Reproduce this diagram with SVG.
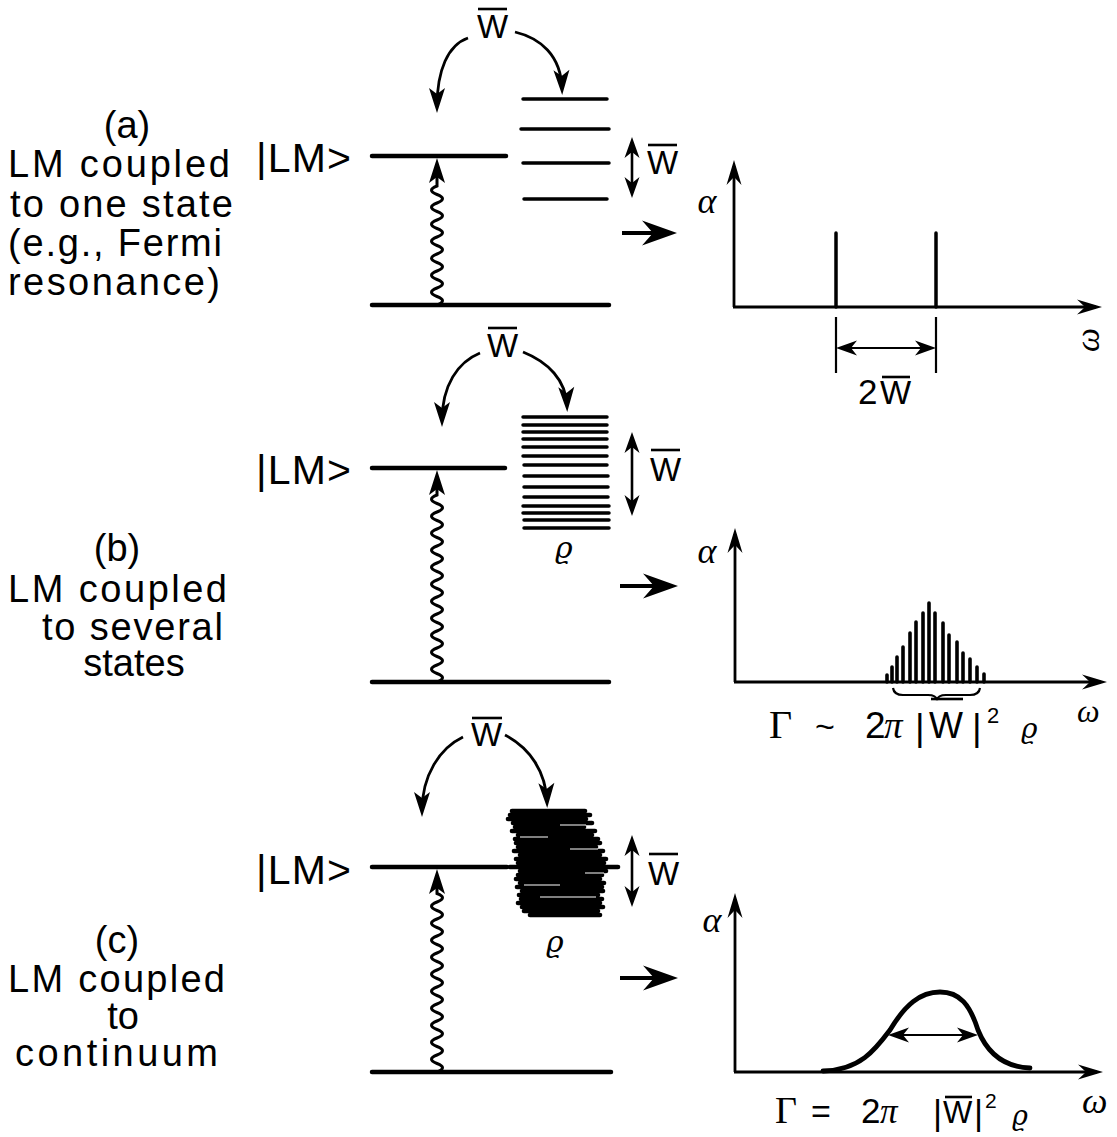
<svg xmlns="http://www.w3.org/2000/svg" width="1117" height="1137" viewBox="0 0 1117 1137">
<style>
text{font-family:"Liberation Sans",Arial,Helvetica,sans-serif;fill:#000}
.lab{font-size:38px}
.ket{font-size:41px}
.w{font-size:33px}
.gk{font-family:"Liberation Serif","Times New Roman",serif;font-style:italic}
.gu{font-family:"Liberation Serif","Times New Roman",serif}
.rho{font-family:"DejaVu Serif",serif;font-style:italic}
.lvl{stroke:#000;stroke-width:4.5;fill:none;stroke-linecap:round}
.st{stroke:#000;stroke-width:3.5;stroke-linecap:round}
.scr{stroke:#000;stroke-width:4.6;stroke-linecap:round}
.wh{stroke:#fff;stroke-width:1}
.thin{stroke:#000;stroke-width:2.2;fill:none}
.arc{stroke:#000;stroke-width:2.8;fill:none;marker-end:url(#ah)}
.wave{stroke:#000;stroke-width:3;fill:none;marker-end:url(#ah)}
.dbl{stroke:#000;stroke-width:2.6;marker-start:url(#as);marker-end:url(#as)}
.big{stroke:#000;stroke-width:3.8;marker-end:url(#big)}
.ax{stroke:#000;stroke-width:2.8;fill:none;marker-end:url(#axh)}
.bar{stroke:#000;stroke-width:3.6;stroke-linecap:round}
.ob{stroke:#000;stroke-width:2.6}
</style>
<defs>
<marker id="ah" viewBox="-30 -10 32 20" markerWidth="32" markerHeight="20" refX="-6" refY="0" orient="auto" markerUnits="userSpaceOnUse"><path d="M0,0 L-25,-8 L-19,0 L-25,8 Z"/></marker>
<marker id="as" viewBox="-26 -9 28 18" markerWidth="28" markerHeight="18" refX="-6" refY="0" orient="auto-start-reverse" markerUnits="userSpaceOnUse"><path d="M0,0 L-21,-7.5 L-15,0 L-21,7.5 Z"/></marker>
<marker id="big" viewBox="-40 -14 42 28" markerWidth="42" markerHeight="28" refX="-8" refY="0" orient="auto" markerUnits="userSpaceOnUse"><path d="M0,0 L-35,-12.5 L-24,0 L-35,12.5 Z"/></marker>
<marker id="axh" viewBox="-30 -10 32 20" markerWidth="32" markerHeight="20" refX="-6" refY="0" orient="auto" markerUnits="userSpaceOnUse"><path d="M0,0 L-25,-7.5 L-17,0 L-25,7.5 Z"/></marker>
</defs>
<rect width="1117" height="1137" fill="#fff"/>

<!-- Left captions -->
<g id="caption-a" class="lab">
<text x="127" y="138" text-anchor="middle">(a)</text>
<text x="8" y="177" textLength="222">LM coupled</text>
<text x="10" y="217" textLength="223">to one state</text>
<text x="8" y="256" textLength="214">(e.g., Fermi</text>
<text x="8" y="295" textLength="212">resonance)</text>
</g>
<g id="caption-b" class="lab">
<text x="117" y="561" text-anchor="middle">(b)</text>
<text x="8" y="602" textLength="219">LM coupled</text>
<text x="42" y="640" textLength="181">to several</text>
<text x="134" y="676" text-anchor="middle">states</text>
</g>
<g id="caption-c" class="lab">
<text x="117" y="953" text-anchor="middle">(c)</text>
<text x="8" y="992" textLength="217">LM coupled</text>
<text x="123" y="1029" text-anchor="middle">to</text>
<text x="15" y="1066" textLength="203">continuum</text>
</g>

<!-- Panel (a) levels -->
<g id="levels-a">
<text class="ket" x="256" y="172" textLength="95">|LM&gt;</text>
<line class="lvl" x1="372" y1="156" x2="506" y2="156"/>
<line class="lvl" x1="372" y1="305" x2="609" y2="305"/>
<line class="st" x1="523" y1="99" x2="607" y2="99"/>
<line class="st" x1="521" y1="129" x2="609" y2="129"/>
<line class="st" x1="523" y1="163" x2="609" y2="163"/>
<line class="st" x1="524" y1="199" x2="607" y2="199"/>
<text class="w" x="477" y="38">W</text><line class="ob" x1="478" y1="9" x2="507" y2="9"/>
<text class="w" x="647" y="174">W</text><line class="ob" x1="648" y1="145" x2="677" y2="145"/>
</g>

<!-- Panel (b) levels -->
<g id="levels-b">
<text class="ket" x="256" y="484" textLength="95">|LM&gt;</text>
<line class="lvl" x1="372" y1="468" x2="505" y2="468"/>
<line class="lvl" x1="372" y1="682" x2="609" y2="682"/>
<g class="st">
<line x1="523" y1="417" x2="607" y2="417"/>
<line x1="523" y1="425" x2="607" y2="425"/>
<line x1="523" y1="432" x2="607" y2="432"/>
<line x1="523" y1="439" x2="607" y2="439"/>
<line x1="523" y1="447" x2="607" y2="447"/>
<line x1="523" y1="456" x2="607" y2="456"/>
<line x1="524" y1="465" x2="607" y2="465"/>
<line x1="524" y1="476" x2="608" y2="476"/>
<line x1="524" y1="487" x2="608" y2="487"/>
<line x1="524" y1="497" x2="608" y2="497"/>
<line x1="523" y1="506" x2="609" y2="506"/>
<line x1="523" y1="513" x2="609" y2="513"/>
<line x1="524" y1="520" x2="609" y2="520"/>
<line x1="524" y1="528" x2="609" y2="528"/>
</g>
<text class="rho" x="555" y="558" font-size="30">ϱ</text>
<text class="w" x="487" y="357">W</text><line class="ob" x1="488" y1="328" x2="517" y2="328"/>
<text class="w" x="650" y="481">W</text><line class="ob" x1="651" y1="450" x2="680" y2="450"/>
</g>

<!-- Panel (c) levels -->
<g id="levels-c">
<text class="ket" x="256" y="884" textLength="95">|LM&gt;</text>
<line class="lvl" x1="372" y1="867" x2="507" y2="867"/>
<line class="lvl" x1="372" y1="1072" x2="611" y2="1072"/>
<g class="scr">
<line x1="512" y1="811" x2="585" y2="811"/>
<line x1="510" y1="815" x2="590" y2="815"/>
<line x1="508" y1="819" x2="586" y2="819"/>
<line x1="513" y1="823" x2="592" y2="823"/>
<line x1="515" y1="827" x2="584" y2="827"/>
<line x1="512" y1="831" x2="595" y2="831"/>
<line x1="518" y1="835" x2="592" y2="835"/>
<line x1="515" y1="839" x2="598" y2="839"/>
<line x1="516" y1="843" x2="600" y2="843"/>
<line x1="518" y1="847" x2="596" y2="847"/>
<line x1="514" y1="851" x2="603" y2="851"/>
<line x1="520" y1="855" x2="600" y2="855"/>
<line x1="516" y1="859" x2="606" y2="859"/>
<line x1="518" y1="863" x2="604" y2="863"/>
<line x1="510" y1="867" x2="618" y2="867"/>
<line x1="520" y1="871" x2="606" y2="871"/>
<line x1="518" y1="875" x2="602" y2="875"/>
<line x1="516" y1="879" x2="600" y2="879"/>
<line x1="520" y1="883" x2="604" y2="883"/>
<line x1="517" y1="887" x2="602" y2="887"/>
<line x1="522" y1="891" x2="603" y2="891"/>
<line x1="519" y1="895" x2="598" y2="895"/>
<line x1="521" y1="899" x2="602" y2="899"/>
<line x1="518" y1="903" x2="600" y2="903"/>
<line x1="522" y1="907" x2="603" y2="907"/>
<line x1="524" y1="911" x2="598" y2="911"/>
<line x1="530" y1="915" x2="600" y2="915"/>
</g>
<g class="wh">
<line x1="560" y1="825" x2="586" y2="825"/>
<line x1="520" y1="837" x2="548" y2="837"/>
<line x1="570" y1="849" x2="598" y2="849"/>
<line x1="585" y1="873" x2="604" y2="873"/>
<line x1="524" y1="885" x2="560" y2="885"/>
<line x1="540" y1="897" x2="596" y2="897"/>
</g>
<text class="rho" x="546" y="952" font-size="30">ϱ</text>
<text class="w" x="471" y="746">W</text><line class="ob" x1="472" y1="718" x2="502" y2="718"/>
<text class="w" x="648" y="885">W</text><line class="ob" x1="649" y1="854" x2="678" y2="854"/>
</g>

<!-- Connectors -->
<g id="connectors">
<path class="arc" d="M468,38 C448,45 437,70 437,107"/>
<path class="arc" d="M515,32 C540,38 561,55 562,89"/>
<path class="arc" d="M480,353 C458,362 442,385 442,421"/>
<path class="arc" d="M523,352 C548,362 566,380 567,406"/>
<path class="arc" d="M463,737 C440,748 422,775 422,811"/>
<path class="arc" d="M505,735 C530,748 546,772 547,802"/>
<path class="wave" d="M437,305 q11,-4.25 0,-8.5 q-11,-4.25 0,-8.5 q11,-4.25 0,-8.5 q-11,-4.25 0,-8.5 q11,-4.25 0,-8.5 q-11,-4.25 0,-8.5 q11,-4.25 0,-8.5 q-11,-4.25 0,-8.5 q11,-4.25 0,-8.5 q-11,-4.25 0,-8.5 q11,-4.25 0,-8.5 q-11,-4.25 0,-8.5 q11,-4.25 0,-8.5 q-11,-4.25 0,-8.5 L437,164"/>
<path class="wave" d="M437,682 q11,-4.25 0,-8.5 q-11,-4.25 0,-8.5 q11,-4.25 0,-8.5 q-11,-4.25 0,-8.5 q11,-4.25 0,-8.5 q-11,-4.25 0,-8.5 q11,-4.25 0,-8.5 q-11,-4.25 0,-8.5 q11,-4.25 0,-8.5 q-11,-4.25 0,-8.5 q11,-4.25 0,-8.5 q-11,-4.25 0,-8.5 q11,-4.25 0,-8.5 q-11,-4.25 0,-8.5 q11,-4.25 0,-8.5 q-11,-4.25 0,-8.5 q11,-4.25 0,-8.5 q-11,-4.25 0,-8.5 q11,-4.25 0,-8.5 q-11,-4.25 0,-8.5 q11,-4.25 0,-8.5 q-11,-4.25 0,-8.5 L437,476"/>
<path class="wave" d="M437,1072 q11,-4.25 0,-8.5 q-11,-4.25 0,-8.5 q11,-4.25 0,-8.5 q-11,-4.25 0,-8.5 q11,-4.25 0,-8.5 q-11,-4.25 0,-8.5 q11,-4.25 0,-8.5 q-11,-4.25 0,-8.5 q11,-4.25 0,-8.5 q-11,-4.25 0,-8.5 q11,-4.25 0,-8.5 q-11,-4.25 0,-8.5 q11,-4.25 0,-8.5 q-11,-4.25 0,-8.5 q11,-4.25 0,-8.5 q-11,-4.25 0,-8.5 q11,-4.25 0,-8.5 q-11,-4.25 0,-8.5 q11,-4.25 0,-8.5 q-11,-4.25 0,-8.5 q11,-4.25 0,-8.5 L437,875"/>
<line class="dbl" x1="632" y1="143" x2="632" y2="192"/>
<line class="dbl" x1="632" y1="438" x2="632" y2="510"/>
<line class="dbl" x1="632" y1="841" x2="632" y2="901"/>
<line class="big" x1="622" y1="233" x2="669" y2="233"/>
<line class="big" x1="620" y1="586" x2="670" y2="586"/>
<line class="big" x1="620" y1="978" x2="670" y2="978"/>
</g>

<!-- Spectrum (a) -->
<g id="spectrum-a">
<path class="ax" d="M734,307 L734,166"/>
<path class="ax" d="M733,307 L1096,307"/>
<line class="st" x1="836" y1="233" x2="836" y2="307"/>
<line class="st" x1="936" y1="233" x2="936" y2="307"/>
<line class="thin" x1="836" y1="317" x2="836" y2="373"/>
<line class="thin" x1="936" y1="317" x2="936" y2="373"/>
<line class="dbl" x1="842" y1="348" x2="930" y2="348" style="stroke-width:2"/>
<text x="707" y="213" class="gk" font-size="36" text-anchor="middle">α</text>
<text transform="translate(1091,340) rotate(-90)" x="0" y="8" class="gk" font-size="34" text-anchor="middle">ω</text>
<text x="858" y="404" font-size="35">2</text><text x="880" y="404" font-size="33">W</text>
<line class="ob" x1="882" y1="377" x2="910" y2="377"/>
</g>

<!-- Spectrum (b) -->
<g id="spectrum-b">
<path class="ax" d="M735,682 L735,534"/>
<path class="ax" d="M734,682 L1101,682"/>
<g class="bar">
<line x1="887" y1="682" x2="887" y2="675"/>
<line x1="892" y1="682" x2="892" y2="667"/>
<line x1="897" y1="682" x2="897" y2="657"/>
<line x1="903" y1="682" x2="903" y2="647"/>
<line x1="910" y1="682" x2="910" y2="633"/>
<line x1="916" y1="682" x2="916" y2="622"/>
<line x1="923" y1="682" x2="923" y2="613"/>
<line x1="929" y1="682" x2="929" y2="603"/>
<line x1="935" y1="682" x2="935" y2="613"/>
<line x1="943" y1="682" x2="943" y2="623"/>
<line x1="949" y1="682" x2="949" y2="635"/>
<line x1="957" y1="682" x2="957" y2="642"/>
<line x1="963" y1="682" x2="963" y2="653"/>
<line x1="970" y1="682" x2="970" y2="659"/>
<line x1="977" y1="682" x2="977" y2="667"/>
<line x1="984" y1="682" x2="984" y2="674"/>
</g>
<path class="thin" d="M893,688 Q894,695 903,695 L928,695 Q936,695 937,700 Q938,695 946,695 L970,695 Q979,695 980,688"/>
<text x="707" y="563" class="gk" font-size="36" text-anchor="middle">α</text>
<text x="1077" y="722" class="gk" font-size="32">ω</text>
<text x="769" y="738" class="gu" font-size="40">Γ</text>
<text x="815" y="738" font-size="34">~</text>
<text x="865" y="738" font-size="37">2</text>
<text x="884" y="738" class="gk" font-size="37">π</text>
<text x="915" y="740" font-size="37">|</text>
<text x="929" y="738" font-size="36">W</text>
<line class="ob" x1="931" y1="699" x2="963" y2="699"/>
<text x="972" y="740" font-size="37">|</text>
<text x="987" y="723" font-size="22">2</text>
<text x="1021" y="738" class="rho" font-size="28">ϱ</text>
</g>

<!-- Spectrum (c) -->
<g id="spectrum-c">
<path class="ax" d="M735,1072 L735,899"/>
<path class="ax" d="M734,1072 L1097,1072"/>
<path d="M823,1071 C860,1070 875,1050 890,1030 C905,1005 920,992 940,992 C960,992 970,1005 978,1030 C988,1055 1005,1067 1030,1068" fill="none" stroke="#000" stroke-width="4.8" stroke-linecap="round"/>
<line class="dbl" x1="894" y1="1035" x2="972" y2="1035" style="stroke-width:2"/>
<text x="712" y="932" class="gk" font-size="36" text-anchor="middle">α</text>
<text x="1082" y="1113" class="gk" font-size="36">ω</text>
<text x="775" y="1123" class="gu" font-size="38">Γ</text>
<text x="811" y="1123" font-size="34">=</text>
<text x="861" y="1123" font-size="35">2</text>
<text x="880" y="1123" class="gk" font-size="35">π</text>
<text x="933" y="1125" font-size="35">|</text>
<text x="943" y="1123" font-size="31">W</text>
<line class="ob" x1="945" y1="1097" x2="972" y2="1097"/>
<text x="974" y="1125" font-size="35">|</text>
<text x="985" y="1108" font-size="21">2</text>
<text x="1012" y="1125" class="rho" font-size="27">ϱ</text>
</g>
</svg>
